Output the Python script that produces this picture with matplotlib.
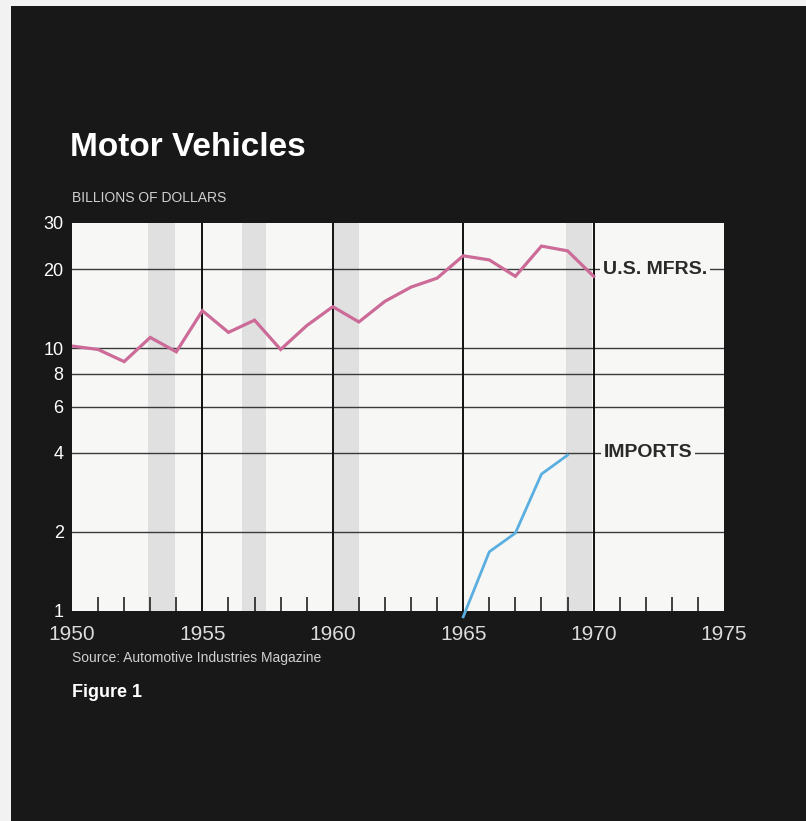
import numpy as np
import matplotlib as mpl
mpl.use('Agg')
import matplotlib.pyplot as plt
from matplotlib.patches import Rectangle
from matplotlib.ticker import FixedLocator, NullFormatter

plt.rcParams['font.family'] = ['Liberation Sans', 'DejaVu Sans']

# data
years_us = list(range(1950, 1971))
us_mfrs = [10.2, 9.9, 8.9, 11.0, 9.7, 13.9, 11.5, 12.8, 9.9, 12.2, 14.4,
           12.6, 15.1, 17.1, 18.5, 22.5, 21.7, 18.8, 24.5, 23.5, 18.8]
years_imp = [1965, 1966, 1967, 1968, 1969]
imports = [0.95, 1.68, 1.98, 3.32, 3.92]
recessions = [(1952.9, 1953.95), (1956.5, 1957.45), (1960.0, 1961.0), (1968.95, 1969.95)]
y_ticks = [1, 2, 4, 6, 8, 10, 20, 30]
x_ticks = [1950, 1955, 1960, 1965, 1970, 1975]

BG = '#181818'
PLOT_BG = '#f7f7f5'
PINK = '#cc6a98'
BLUE = '#5aaee0'

fig = plt.figure(figsize=(8.06, 8.21), dpi=100, facecolor='#f2f2f2')
# dark printed page, with a thin light scan margin on the top and left
fig.patches.append(Rectangle((11 / 806, 0), 1, 1 - 6 / 821, transform=fig.transFigure,
                             facecolor=BG, edgecolor='none', zorder=-10))

ax = fig.add_axes([0.0893, 0.2558, 0.809, 0.4726])
ax.set_facecolor(PLOT_BG)
ax.set_yscale('log')
ax.set_xlim(1950, 1975)
ax.set_ylim(1, 30)

for a, b in recessions:
    ax.axvspan(a, b, color='#e0e0e0', lw=0, zorder=0)

for y in [2, 4, 6, 8, 10, 20]:
    ax.axhline(y, color='#3a3a3a', lw=1.0, zorder=1)
for x in [1955, 1960, 1965, 1970]:
    ax.axvline(x, color='#111111', lw=1.4, zorder=1)

ax.plot(years_us, us_mfrs, color=PINK, lw=2.3, zorder=3, solid_joinstyle='miter')
ax.plot(years_imp, imports, color=BLUE, lw=2.0, zorder=3, clip_on=False)

for s in ax.spines.values():
    s.set_visible(False)

ax.yaxis.set_major_locator(FixedLocator(y_ticks))
ax.yaxis.set_minor_locator(FixedLocator([]))
ax.set_yticklabels([str(v) for v in y_ticks])
ax.yaxis.set_minor_formatter(NullFormatter())
ax.tick_params(axis='y', which='both', length=0, pad=6, labelcolor='white', labelsize=13)

ax.xaxis.set_major_locator(FixedLocator(x_ticks))
ax.set_xticklabels([str(v) for v in x_ticks])
minor_years = [y for y in range(1951, 1975) if y % 5 != 0]
ax.xaxis.set_minor_locator(FixedLocator(minor_years))
ax.tick_params(axis='x', which='major', length=0, pad=10, labelcolor='#dcdcdc', labelsize=15)
ax.tick_params(axis='x', which='minor', direction='in', length=10, width=1.2, color='#222222')

lbl = dict(fontsize=14, fontweight='bold', color='#2a2a2a', va='center', ha='left', zorder=4,
           bbox=dict(facecolor=PLOT_BG, edgecolor='none', pad=2))
ax.text(1970.35, 20, 'U.S. MFRS.', **lbl)
ax.text(1970.4, 4, 'IMPORTS', **lbl)

fig.text(0.087, 0.820, 'Motor Vehicles', color='white', fontsize=24, fontweight='bold', va='center')
fig.text(0.089, 0.759, 'BILLIONS OF DOLLARS', color='#d0d0d0', fontsize=10, va='center')
fig.text(0.089, 0.198, 'Source: Automotive Industries Magazine', color='#d0d0d0', fontsize=10, va='center')
fig.text(0.089, 0.157, 'Figure 1', color='white', fontsize=13, fontweight='bold', va='center')

fig.savefig('out.png', dpi=100)
